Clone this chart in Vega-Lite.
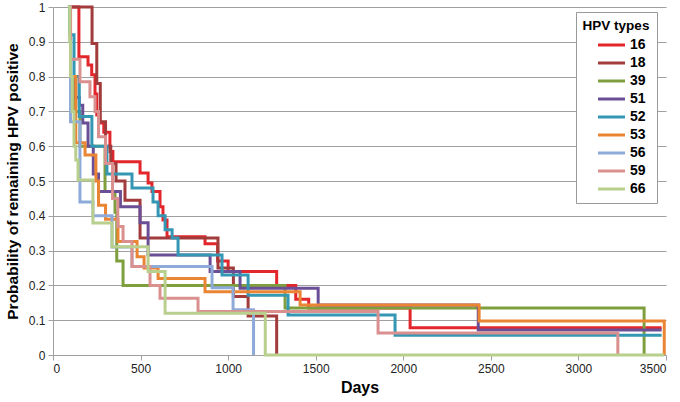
{
  "$schema": "https://vega.github.io/schema/vega-lite/v6.json",
  "width": 613,
  "height": 348,
  "autosize": {"type": "none"},
  "padding": {"left": 53, "top": 7, "right": 14, "bottom": 47},
  "config": {"view": {"stroke": null}, "font": "Liberation Sans"},
  "datasets": {
    "km": [
      {"t":"16","d":90,"p":1},{"t":"16","d":148,"p":0.857},{"t":"16","d":200,"p":0.833},{"t":"16","d":221,"p":0.805},{"t":"16","d":240,"p":0.75},{"t":"16","d":250,"p":0.69},{"t":"16","d":265,"p":0.667},{"t":"16","d":290,"p":0.64},{"t":"16","d":325,"p":0.585},{"t":"16","d":342,"p":0.555},{"t":"16","d":497,"p":0.523},{"t":"16","d":543,"p":0.494},{"t":"16","d":565,"p":0.47},{"t":"16","d":611,"p":0.426},{"t":"16","d":628,"p":0.388},{"t":"16","d":651,"p":0.34},{"t":"16","d":868,"p":0.32},{"t":"16","d":940,"p":0.27},{"t":"16","d":1000,"p":0.24},{"t":"16","d":1277,"p":0.2},{"t":"16","d":1386,"p":0.16},{"t":"16","d":1460,"p":0.135},{"t":"16","d":2039,"p":0.078},{"t":"16","d":3475,"p":0.078},
      {"t":"18","d":100,"p":1},{"t":"18","d":223,"p":0.895},{"t":"18","d":250,"p":0.78},{"t":"18","d":270,"p":0.67},{"t":"18","d":300,"p":0.6},{"t":"18","d":330,"p":0.55},{"t":"18","d":360,"p":0.5},{"t":"18","d":411,"p":0.445},{"t":"18","d":497,"p":0.336},{"t":"18","d":942,"p":0.25},{"t":"18","d":1030,"p":0.168},{"t":"18","d":1114,"p":0.112},{"t":"18","d":1277,"p":0},
      {"t":"39","d":90,"p":1},{"t":"39","d":100,"p":0.8},{"t":"39","d":120,"p":0.7},{"t":"39","d":154,"p":0.6},{"t":"39","d":297,"p":0.47},{"t":"39","d":354,"p":0.41},{"t":"39","d":364,"p":0.27},{"t":"39","d":400,"p":0.2},{"t":"39","d":1325,"p":0.135},{"t":"39","d":3375,"p":0},
      {"t":"51","d":90,"p":1},{"t":"51","d":100,"p":0.8},{"t":"51","d":130,"p":0.74},{"t":"51","d":150,"p":0.718},{"t":"51","d":170,"p":0.667},{"t":"51","d":200,"p":0.6},{"t":"51","d":230,"p":0.52},{"t":"51","d":260,"p":0.47},{"t":"51","d":385,"p":0.426},{"t":"51","d":497,"p":0.38},{"t":"51","d":543,"p":0.287},{"t":"51","d":897,"p":0.24},{"t":"51","d":1068,"p":0.192},{"t":"51","d":1514,"p":0.144},{"t":"51","d":2428,"p":0.072},{"t":"51","d":3475,"p":0.072},
      {"t":"52","d":85,"p":1},{"t":"52","d":95,"p":0.92},{"t":"52","d":120,"p":0.8},{"t":"52","d":150,"p":0.685},{"t":"52","d":222,"p":0.6},{"t":"52","d":308,"p":0.52},{"t":"52","d":451,"p":0.48},{"t":"52","d":571,"p":0.44},{"t":"52","d":600,"p":0.4},{"t":"52","d":640,"p":0.36},{"t":"52","d":680,"p":0.336},{"t":"52","d":714,"p":0.287},{"t":"52","d":965,"p":0.23},{"t":"52","d":1114,"p":0.172},{"t":"52","d":1342,"p":0.115},{"t":"52","d":1953,"p":0.057},{"t":"52","d":3475,"p":0.057},
      {"t":"53","d":90,"p":1},{"t":"53","d":100,"p":0.8},{"t":"53","d":130,"p":0.61},{"t":"53","d":183,"p":0.575},{"t":"53","d":245,"p":0.5},{"t":"53","d":260,"p":0.43},{"t":"53","d":300,"p":0.39},{"t":"53","d":371,"p":0.326},{"t":"53","d":480,"p":0.282},{"t":"53","d":520,"p":0.25},{"t":"53","d":600,"p":0.22},{"t":"53","d":868,"p":0.182},{"t":"53","d":1411,"p":0.144},{"t":"53","d":2433,"p":0.098},{"t":"53","d":3490,"p":0},
      {"t":"56","d":90,"p":1},{"t":"56","d":100,"p":0.67},{"t":"56","d":154,"p":0.44},{"t":"56","d":228,"p":0.4},{"t":"56","d":337,"p":0.31},{"t":"56","d":451,"p":0.254},{"t":"56","d":908,"p":0.193},{"t":"56","d":1028,"p":0.13},{"t":"56","d":1145,"p":0},
      {"t":"59","d":90,"p":1},{"t":"59","d":100,"p":0.85},{"t":"59","d":154,"p":0.785},{"t":"59","d":211,"p":0.742},{"t":"59","d":240,"p":0.7},{"t":"59","d":260,"p":0.627},{"t":"59","d":300,"p":0.55},{"t":"59","d":340,"p":0.45},{"t":"59","d":370,"p":0.369},{"t":"59","d":400,"p":0.326},{"t":"59","d":451,"p":0.254},{"t":"59","d":554,"p":0.2},{"t":"59","d":611,"p":0.163},{"t":"59","d":828,"p":0.125},{"t":"59","d":1856,"p":0.063},{"t":"59","d":3225,"p":0},
      {"t":"66","d":85,"p":1},{"t":"66","d":95,"p":0.9},{"t":"66","d":100,"p":0.8},{"t":"66","d":110,"p":0.7},{"t":"66","d":120,"p":0.6},{"t":"66","d":130,"p":0.56},{"t":"66","d":143,"p":0.503},{"t":"66","d":228,"p":0.379},{"t":"66","d":337,"p":0.311},{"t":"66","d":543,"p":0.24},{"t":"66","d":640,"p":0.12},{"t":"66","d":1212,"p":0},{"t":"66","d":3490,"p":0}
    ]
  },
  "data": {"name": "km"},
  "mark": {"type": "line", "interpolate": "step-after", "strokeWidth": 3},
  "encoding": {
    "x": {
      "field": "d", "type": "quantitative",
      "scale": {"domain": [0, 3500], "nice": false, "zero": false},
      "axis": {
        "title": "Days", "values": [0, 500, 1000, 1500, 2000, 2500, 3000, 3500], "format": "d",
        "grid": false, "domainColor": "#a0a0a0", "tickColor": "#a0a0a0", "tickSize": 5,
        "labelFontSize": 12, "labelColor": "#222", "labelPadding": 3,
        "titleFontSize": 16, "titleFontWeight": "bold", "titleColor": "#000", "titlePadding": 5
      }
    },
    "y": {
      "field": "p", "type": "quantitative",
      "scale": {"domain": [0, 1], "nice": false},
      "axis": {
        "title": "Probability of remaining HPV positive",
        "values": [0, 0.1, 0.2, 0.3, 0.4, 0.5, 0.6, 0.7, 0.8, 0.9, 1], "format": "~g",
        "grid": true, "gridColor": "#a0a0a0", "domainColor": "#a0a0a0", "tickColor": "#a0a0a0", "tickSize": 5,
        "labelFontSize": 12, "labelColor": "#222", "labelPadding": 3,
        "titleFontSize": 15.5, "titleFontWeight": "bold", "titleColor": "#000", "titlePadding": 8
      }
    },
    "color": {
      "field": "t", "type": "nominal",
      "scale": {
        "domain": ["16", "18", "39", "51", "52", "53", "56", "59", "66"],
        "range": ["#e3262b", "#a23b3b", "#7f9f3f", "#6b4f96", "#3497b3", "#ea8534", "#8eaad9", "#d9908f", "#b9cf8d"]
      },
      "legend": {
        "orient": "none", "legendX": 523, "legendY": 5,
        "title": "HPV types", "titleFontSize": 13.5, "titleFontWeight": "bold", "titleColor": "#000",
        "titleAlign": "center", "titleAnchor": "middle", "titlePadding": 4,
        "labelFontSize": 14, "labelFontWeight": "bold", "labelColor": "#000",
        "symbolType": "M-2,0H2", "symbolSize": 182, "symbolStrokeWidth": 3,
        "strokeColor": "#999", "fillColor": "#fff", "padding": 7, "rowPadding": 2,
        "symbolOffset": 17, "labelOffset": 10
      }
    }
  }
}
